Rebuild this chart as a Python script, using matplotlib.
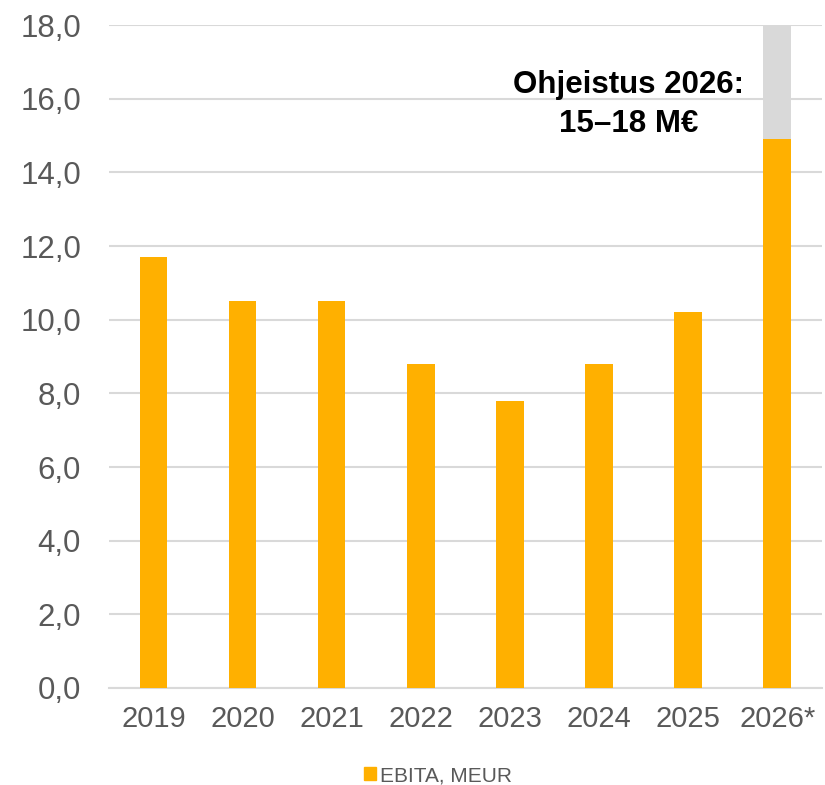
import matplotlib
matplotlib.use('Agg')
import matplotlib.pyplot as plt
from matplotlib.patches import Patch

plt.rcParams['font.family'] = ['Liberation Sans', 'DejaVu Sans']

# EBITA per vuosi, MEUR
years = ['2019', '2020', '2021', '2022', '2023', '2024', '2025', '2026*']
ebita = [11.7, 10.5, 10.5, 8.8, 7.8, 8.8, 10.2, 14.9]
# ohjeistuksen yläraja 2026
guide_top = 18.0
yticks = [0, 2, 4, 6, 8, 10, 12, 14, 16, 18]

orange = '#FFB000'
grey_bar = '#D9D9D9'
txt = '#595959'

fig = plt.figure(figsize=(8.25, 7.85), dpi=100)
ax = fig.add_axes([0.132, 0.1236, 0.864, 0.8444])

x = list(range(len(years)))
ax.bar(x, ebita, width=0.31, color=orange, zorder=3)
ax.bar(x[-1], guide_top - ebita[-1], bottom=ebita[-1], width=0.31, color=grey_bar, zorder=3)

ax.set_ylim(0, 18)
ax.set_xlim(-0.5, len(years) - 0.5)
ax.set_yticks(yticks)
ax.set_yticklabels([f"{v:.1f}".replace('.', ',') for v in yticks])
ax.set_xticks(x)
ax.set_xticklabels(years)
ax.tick_params(axis='both', length=0, colors=txt)
ax.tick_params(axis='x', labelsize=21, pad=12)
ax.tick_params(axis='y', labelsize=22.5, pad=20)

ax.grid(axis='y', color='#D9D9D9', linewidth=1.5, zorder=0)
for s in ['top', 'right', 'left']:
    ax.spines[s].set_visible(False)
ax.spines['bottom'].set_color('#D9D9D9')
ax.spines['bottom'].set_linewidth(1.5)

ax.text(5.33, 15.85, "Ohjeistus 2026:\n15–18 M€", ha='center', va='center',
        fontsize=22.5, fontweight='bold', color='black', linespacing=1.4, zorder=4)

fig.legend(handles=[Patch(color=orange, label='EBITA, MEUR')], loc='center',
           bbox_to_anchor=(0.531, 0.012), frameon=False, fontsize=15,
           handlelength=0.55, handleheight=0.55, handletextpad=0.2, labelcolor=txt)

fig.savefig('out.png', dpi=100)
